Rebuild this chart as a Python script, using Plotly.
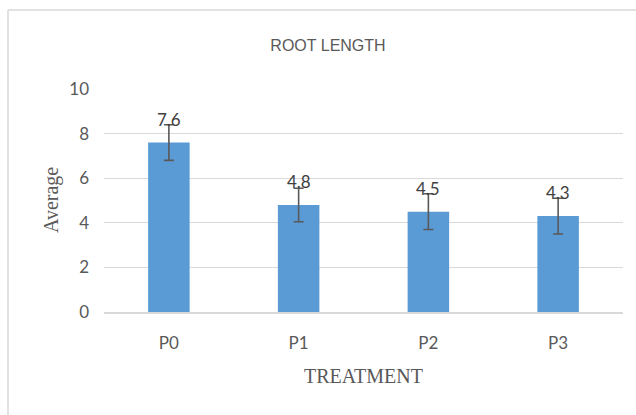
import plotly.graph_objects as go

categories = ["P0", "P1", "P2", "P3"]
values = [7.6, 4.8, 4.5, 4.3]
errors = [0.8, 0.75, 0.8, 0.8]
labels = ["7.6", "4.8", "4.5", "4.3"]
y_ticks = [0, 2, 4, 6, 8, 10]

W, H = 636, 415
L, R, T, B = 104, 13, 89, 103
pw, ph = W - L - R, H - T - B

def px_x(x):
    return (x - L) / pw

def px_y(y):
    return (H - B - y) / ph

label_font = "Lato, Calibri, sans-serif"
serif = "Liberation Serif, Times New Roman, serif"

fig = go.Figure()
fig.add_trace(go.Bar(
    x=categories, y=values, width=0.32,
    marker=dict(color="#5b9bd5", line=dict(width=0)),
    error_y=dict(type="data", array=errors, visible=True,
                 color="#595959", thickness=1.6, width=5),
    hoverinfo="x+y",
))

for c, v, t in zip(categories, values, labels):
    fig.add_annotation(x=c, y=v, text=t, showarrow=False, yanchor="bottom",
                       yshift=11, font=dict(family=label_font, size=17, color="#404040"))

fig.add_annotation(xref="paper", yref="paper", x=px_x(51), y=px_y(200),
                   xanchor="center", yanchor="middle",
                   text="Average", textangle=-90, showarrow=False,
                   font=dict(family=serif, size=20, color="#595959"))
fig.add_annotation(xref="paper", yref="paper", x=px_x(363), y=px_y(376),
                   xanchor="center", yanchor="middle",
                   text="TREATMENT", showarrow=False,
                   font=dict(family=serif, size=20, color="#595959"))

# outer chart border (top and left visible)
fig.add_shape(type="line", xref="paper", yref="paper",
              x0=px_x(8), x1=px_x(640), y0=px_y(10), y1=px_y(10),
              line=dict(color="#d9d9d9", width=1.5))
fig.add_shape(type="line", xref="paper", yref="paper",
              x0=px_x(8), x1=px_x(8), y0=px_y(10), y1=px_y(420),
              line=dict(color="#d9d9d9", width=1.5))

fig.update_layout(
    width=W, height=H,
    margin=dict(l=L, r=R, t=T, b=B),
    paper_bgcolor="white", plot_bgcolor="white",
    showlegend=False,
    title=dict(text="ROOT LENGTH", x=px_x(328), xref="paper", xanchor="center",
               y=1 - 45 / H, yanchor="middle",
               font=dict(family="Liberation Sans Narrow, Arial Narrow, sans-serif",
                         size=16, color="#595959")),
    bargap=0.68,
    yaxis=dict(range=[0, 10], tickvals=y_ticks, showgrid=True,
               gridcolor="#d9d9d9", gridwidth=1.3, zeroline=False,
               showline=False, ticks="", ticklabelstandoff=14,
               tickfont=dict(family=label_font, size=17, color="#595959")),
    xaxis=dict(showline=True, linecolor="#d9d9d9", linewidth=1.5,
               ticks="", ticklabelstandoff=15,
               tickfont=dict(family=label_font, size=17, color="#595959")),
)

fig.write_html("out.html", config={"displayModeBar": False},
               post_script="document.body.style.margin='0px';document.body.style.padding='0px';")
